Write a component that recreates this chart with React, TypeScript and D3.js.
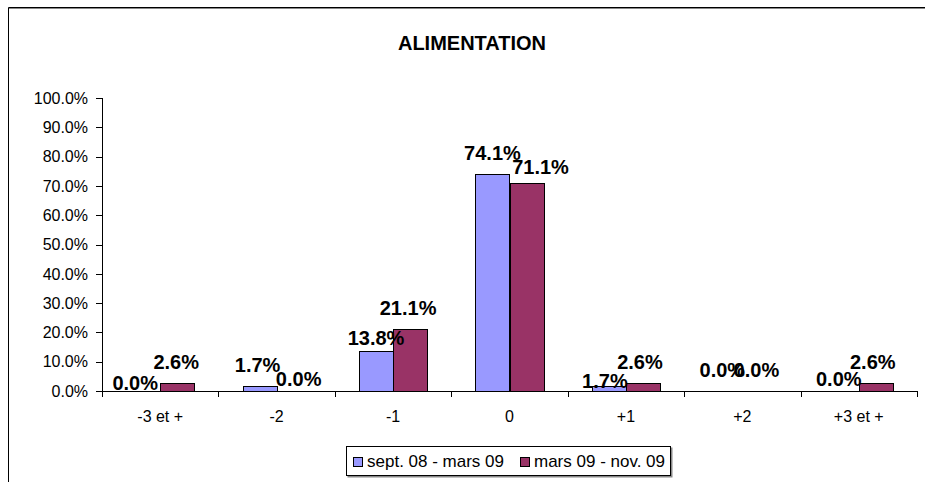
import React from "react";
import * as d3 from "d3";

const categories = ["-3 et +", "-2", "-1", "0", "+1", "+2", "+3 et +"];
const seriesNames = ["sept. 08 - mars 09", "mars 09 - nov. 09"];
const septMars = [0.0, 1.7, 13.8, 74.1, 1.7, 0.0, 0.0];
const marsNov = [2.6, 0.0, 21.1, 71.1, 2.6, 0.0, 2.6];
const yTicks = [0, 10, 20, 30, 40, 50, 60, 70, 80, 90, 100];
const title = "ALIMENTATION";

// manual label nudges (as in the original, labels were hand-placed)
const labelDx = [
  [-8, -2, 0, 0, -4, -3, -3],
  [-1, 5, -2, 14, -3, -3, -3],
];
const labelDy = [
  [13, 0, 8, 0, 16, 0, 9],
  [0, 9, 0, 5, 0, 0, 0],
];

const colors = ["#9999FF", "#993366"];
const FONT = "'Liberation Sans', Arial, Helvetica, sans-serif";

export default function App() {
  const W = 925;
  const H = 482;
  const left = 102;
  const right = 917;
  const top = 98;
  const bottom = 391;

  const x = d3.scaleBand<string>().domain(categories).range([left, right]).paddingInner(0).paddingOuter(0);
  const y = d3.scaleLinear().domain([0, 100]).range([bottom, top]);
  const inner = d3
    .scaleBand<number>()
    .domain([0, 1])
    .range([0, x.bandwidth()])
    .paddingInner(0)
    .paddingOuter(0.71);

  const series = [septMars, marsNov];

  return (
    <svg
      width={W}
      height={H}
      style={{ position: "absolute", left: 0, top: 0, background: "#fff" }}
      fontFamily={FONT}
    >
      {/* outer chart border */}
      <line x1={8.5} y1={7.5} x2={W} y2={7.5} stroke="#000" strokeWidth={1} />
      <line x1={9} y1={8.5} x2={W} y2={8.5} stroke="#888" strokeWidth={1} />
      <line x1={8.5} y1={7.5} x2={8.5} y2={H} stroke="#000" strokeWidth={1} />

      <text x={472} y={50} textAnchor="middle" fontSize={20} fontWeight="bold" fill="#000">
        {title}
      </text>

      {/* y axis */}
      <line x1={left + 0.5} y1={top} x2={left + 0.5} y2={bottom} stroke="#000" />
      {yTicks.map((t) => (
        <g key={t}>
          <line x1={left - 6} x2={left} y1={Math.round(y(t)) + 0.5} y2={Math.round(y(t)) + 0.5} stroke="#000" />
          <text x={88} y={y(t)} dy="0.36em" textAnchor="end" fontSize={16} fill="#000">
            {d3.format(".1f")(t) + "%"}
          </text>
        </g>
      ))}

      {/* bars */}
      {categories.map((c, i) => (
        <g key={c}>
          {series.map((s, k) => {
            const bx = (x(c) as number) + (inner(k) as number);
            const by = y(s[i]);
            return (
              <rect
                key={k}
                x={Math.round(bx) + 0.5}
                y={Math.round(by) + 0.5}
                width={Math.round(inner.bandwidth())}
                height={Math.max(0, Math.round(bottom - by))}
                fill={colors[k]}
                stroke="#000"
                strokeWidth={1}
              />
            );
          })}
        </g>
      ))}

      {/* x axis */}
      <line x1={left} y1={bottom + 0.5} x2={right} y2={bottom + 0.5} stroke="#000" />
      {[...categories.map((c) => x(c) as number), right].map((px, i) => (
        <line key={i} x1={Math.round(px) + 0.5} x2={Math.round(px) + 0.5} y1={bottom} y2={bottom + 6} stroke="#000" />
      ))}
      {categories.map((c) => (
        <text
          key={c}
          x={(x(c) as number) + x.bandwidth() / 2}
          y={422}
          textAnchor="middle"
          fontSize={16}
          fill="#000"
        >
          {c}
        </text>
      ))}

      {/* data labels */}
      {categories.map((c, i) =>
        series.map((s, k) => {
          const cx = (x(c) as number) + (inner(k) as number) + inner.bandwidth() / 2;
          return (
            <text
              key={c + k}
              x={cx + labelDx[k][i]}
              y={y(s[i]) - 14 + labelDy[k][i]}
              textAnchor="middle"
              fontSize={20}
              fontWeight="bold"
              fill="#000"
            >
              {d3.format(".1f")(s[i]) + "%"}
            </text>
          );
        })
      )}

      {/* legend */}
      <rect x={347.5} y={447.5} width={325} height={30} fill="#888" stroke="none" />
      <rect x={346.5} y={446.5} width={324} height={29} fill="#fff" stroke="#000" />
      {seriesNames.map((n, k) => {
        const lx = k === 0 ? 353 : 520;
        return (
          <g key={n}>
            <rect x={lx + 0.5} y={457.5} width={9} height={9} fill={colors[k]} stroke="#000" />
            <text x={lx + 14} y={467} fontSize={17} fill="#000">
              {n}
            </text>
          </g>
        );
      })}
    </svg>
  );
}
